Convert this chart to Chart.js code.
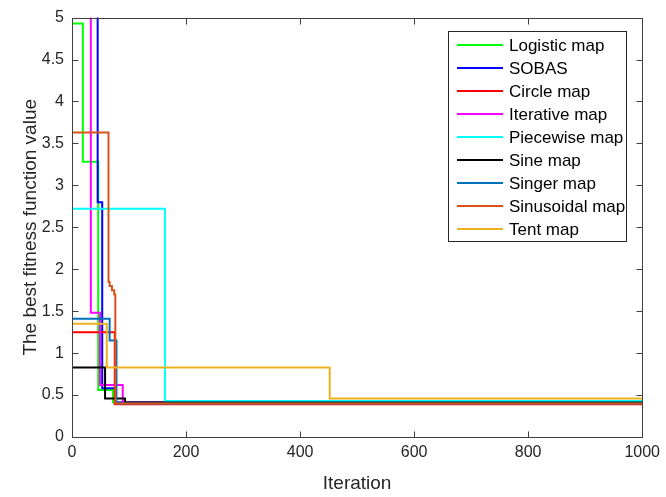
<!DOCTYPE html>
<html lang="en">
<head>
  <meta charset="UTF-8" />
  <title>Best fitness vs iteration</title>
  <script src="https://cdn.jsdelivr.net/npm/chart.js"></script>
  <style>
    body { margin: 0; background: #fff; }
    #wrap { width: 666px; height: 497px; }
  </style>
</head>
<body>
  <div id="wrap"><canvas id="chart"></canvas></div>

  <script>
    // series names and colours (MATLAB defaults)
    const seriesNames = ['Logistic map', 'SOBAS', 'Circle map', 'Iterative map', 'Piecewise map',
                         'Sine map', 'Singer map', 'Sinusoidal map', 'Tent map'];
    const seriesColors = ['#00ff00', '#0000ff', '#ff0000', '#ff00ff', '#00ffff',
                          '#000000', '#0072bd', '#d95319', '#edb120'];

    // step points: iteration where the best value changes, and the new value
    const logisticIter = [0, 19, 46, 72, 1000];
    const logisticVal  = [4.93, 3.28, 0.56, 0.41, 0.41];
    const sobasIter = [0, 45, 53, 76, 1000];
    const sobasVal  = [6.0, 2.8, 0.58, 0.41, 0.41];
    const circleIter = [0, 75, 1000];
    const circleVal  = [1.25, 0.39, 0.39];
    const iterativeIter = [0, 33, 49, 89, 1000];
    const iterativeVal  = [6.0, 1.48, 0.62, 0.41, 0.41];
    const piecewiseIter = [0, 163, 1000];
    const piecewiseVal  = [2.72, 0.43, 0.43];
    const sineIter = [0, 58, 93, 1000];
    const sineVal  = [0.83, 0.46, 0.41, 0.41];
    const singerIter = [0, 66, 78, 1000];
    const singerVal  = [1.41, 1.15, 0.40, 0.40];
    const sinusoidalIter = [0, 64, 66, 70, 74, 76, 1000];
    const sinusoidalVal  = [3.63, 1.85, 1.8, 1.75, 1.7, 0.40, 0.40];
    const tentIter = [0, 61, 452, 1000];
    const tentVal  = [1.35, 0.83, 0.46, 0.46];

    const xTicks = [0, 200, 400, 600, 800, 1000];
    const yTicks = [0, 0.5, 1, 1.5, 2, 2.5, 3, 3.5, 4, 4.5, 5];

    const iters = [logisticIter, sobasIter, circleIter, iterativeIter, piecewiseIter,
                   sineIter, singerIter, sinusoidalIter, tentIter];
    const vals = [logisticVal, sobasVal, circleVal, iterativeVal, piecewiseVal,
                  sineVal, singerVal, sinusoidalVal, tentVal];

    const datasets = seriesNames.map((name, i) => ({
      label: name,
      data: iters[i].map((x, j) => ({ x: x, y: vals[i][j] })),
      borderColor: seriesColors[i],
      borderWidth: 2,
      pointRadius: 0,
      stepped: 'before',
      fill: false,
      order: -i
    }));

    const FONT = '"Liberation Sans", Arial, sans-serif';

    // white background, box with inward ticks, and legend inside the plot
    const frame = {
      id: 'frame',
      beforeDraw(chart) {
        const ctx = chart.ctx;
        ctx.save();
        ctx.fillStyle = '#fff';
        ctx.fillRect(0, 0, chart.width, chart.height);
        ctx.restore();
      },
      afterDatasetsDraw(chart) {
        const { ctx, chartArea: a, scales: { x, y } } = chart;
        ctx.save();
        ctx.strokeStyle = '#404040';
        ctx.lineWidth = 1;
        const L = Math.round(a.left) + 0.5, R = Math.round(a.right) + 0.5;
        const T = Math.round(a.top) + 0.5, B = Math.round(a.bottom) + 0.5;
        ctx.strokeRect(L, T, R - L, B - T);
        ctx.beginPath();
        xTicks.forEach(v => {
          const px = Math.round(x.getPixelForValue(v)) + 0.5;
          ctx.moveTo(px, B); ctx.lineTo(px, B - 6);
          ctx.moveTo(px, T); ctx.lineTo(px, T + 6);
        });
        yTicks.forEach(v => {
          const py = Math.round(y.getPixelForValue(v)) + 0.5;
          ctx.moveTo(L, py); ctx.lineTo(L + 6, py);
          ctx.moveTo(R, py); ctx.lineTo(R - 6, py);
        });
        ctx.stroke();

        // legend
        const bx = 448.5, by = 31.5, bw = 178, bh = 210;
        ctx.fillStyle = '#fff';
        ctx.fillRect(bx, by, bw, bh);
        ctx.strokeStyle = '#262626';
        ctx.strokeRect(bx, by, bw, bh);
        ctx.font = '17px ' + FONT;
        ctx.textBaseline = 'middle';
        ctx.fillStyle = '#000';
        seriesNames.forEach((name, i) => {
          const ly = 45 + i * 23;
          ctx.strokeStyle = seriesColors[i];
          ctx.lineWidth = 2;
          ctx.beginPath();
          ctx.moveTo(457, ly); ctx.lineTo(503, ly);
          ctx.stroke();
          ctx.fillText(name, 509, ly + 1);
        });
        ctx.restore();
      }
    };

    new Chart(document.getElementById('chart'), {
      type: 'line',
      data: { datasets: datasets },
      plugins: [frame],
      options: {
        responsive: true,
        maintainAspectRatio: false,
        animation: false,
        layout: { padding: { top: 16, right: 23, left: 0, bottom: 0 } },
        plugins: {
          legend: { display: false },
          tooltip: { enabled: false }
        },
        scales: {
          x: {
            type: 'linear',
            min: 0, max: 1000,
            afterFit: s => { s.height = 60; },
            afterBuildTicks: s => { s.ticks = xTicks.map(v => ({ value: v })); },
            grid: { display: false, drawTicks: false },
            border: { display: false },
            ticks: {
              padding: 6,
              color: '#262626',
              font: { family: FONT, size: 16 },
              maxRotation: 0,
              callback: v => String(v)
            },
            title: {
              display: true,
              text: 'Iteration',
              color: '#262626',
              font: { family: FONT, size: 19 },
              padding: { top: 0, bottom: 2 }
            }
          },
          y: {
            min: 0, max: 5,
            afterFit: s => { s.width = 72; },
            afterBuildTicks: s => { s.ticks = yTicks.map(v => ({ value: v })); },
            grid: { display: false, drawTicks: false },
            border: { display: false },
            ticks: {
              padding: 8,
              color: '#262626',
              font: { family: FONT, size: 16 },
              callback: v => String(v)
            },
            title: {
              display: true,
              text: 'The best fitness function value',
              color: '#262626',
              font: { family: FONT, size: 19 },
              padding: { top: 19, bottom: 0 }
            }
          }
        }
      }
    });
  </script>
</body>
</html>
